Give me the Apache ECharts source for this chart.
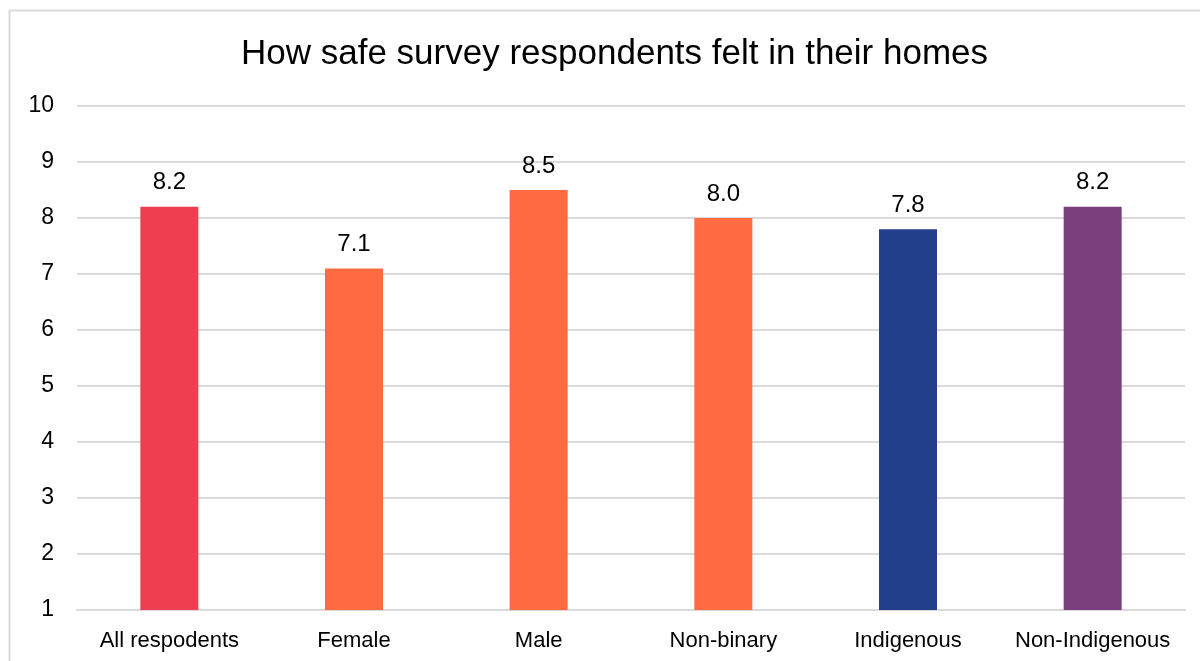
<!DOCTYPE html>
<html>
<head>
<meta charset="utf-8">
<script src="https://cdn.jsdelivr.net/npm/echarts@6/dist/echarts.min.js"></script>
<style>
  html, body { margin: 0; padding: 0; background: #fff; }
  #chart { width: 1200px; height: 661px; }
</style>
</head>
<body>
<div id="chart"></div>
<script>
const categories = ['All respodents', 'Female', 'Male', 'Non-binary', 'Indigenous', 'Non-Indigenous'];
const values = [8.2, 7.1, 8.5, 8.0, 7.8, 8.2];
const barColors = ['#EF3E51', '#FF6A40', '#FF6A40', '#FF6A40', '#233F8C', '#7A3F7C'];
const yTicks = [1, 2, 3, 4, 5, 6, 7, 8, 9, 10];

const chart = echarts.init(document.getElementById('chart'), null, { renderer: 'canvas' });
const font = '"Liberation Sans", Arial, sans-serif';

chart.setOption({
  backgroundColor: '#fff',
  animation: false,
  title: {
    text: 'How safe survey respondents felt in their homes',
    left: 236,
    top: 32,
    textStyle: { fontFamily: font, fontSize: 35, fontWeight: 'normal', color: '#000' }
  },
  graphic: [{
    type: 'rect',
    shape: { x: 9.5, y: 10.5, width: 1200, height: 660 },
    style: { fill: 'none', stroke: '#d9d9d9', lineWidth: 2 },
    silent: true
  }],
  grid: { left: 77, right: 15, top: 106, bottom: 51, containLabel: false },
  xAxis: {
    type: 'category',
    data: categories,
    axisLine: { lineStyle: { color: '#d9d9d9', width: 2 } },
    axisTick: { show: false },
    axisLabel: { fontFamily: font, fontSize: 22, color: '#000', margin: 20, interval: 0 }
  },
  yAxis: {
    type: 'value',
    min: yTicks[0],
    max: yTicks[yTicks.length - 1],
    interval: 1,
    axisLine: { show: false },
    axisTick: { show: false },
    splitLine: { lineStyle: { color: '#d9d9d9', width: 2 } },
    axisLabel: { fontFamily: font, fontSize: 23, color: '#000', margin: 23 }
  },
  series: [{
    type: 'bar',
    barWidth: 58,
    data: values.map((v, i) => ({ value: v, itemStyle: { color: barColors[i] } })),
    label: {
      show: true,
      position: 'top',
      distance: 12,
      formatter: p => p.value.toFixed(1),
      fontFamily: font,
      fontSize: 24,
      color: '#000'
    }
  }]
});
</script>
</body>
</html>
